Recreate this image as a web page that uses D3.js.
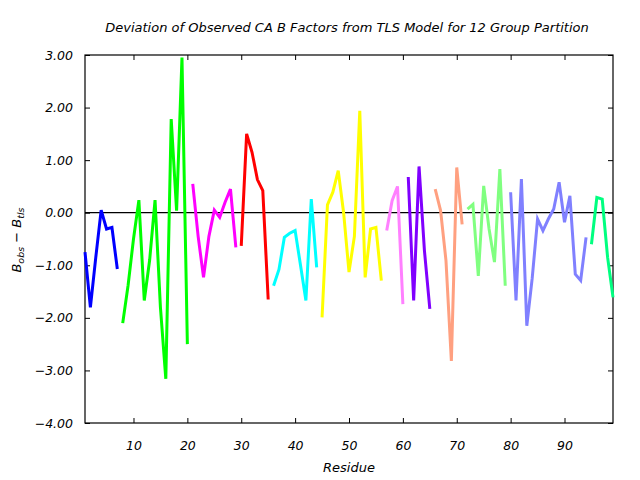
<!DOCTYPE html>
<html><head><meta charset="utf-8">
<script src="https://cdn.jsdelivr.net/npm/d3@7"></script>
<style>body{margin:0;background:#fff}svg{display:block}text{font-family:"DejaVu Sans",sans-serif;font-style:italic}</style>
</head><body><svg id="c" width="640" height="480"></svg>
<script>
const title = "Deviation of Observed CA B Factors from TLS Model for 12 Group Partition";
const xTicks = [10,20,30,40,50,60,70,80,90];
const yTicks = [-4,-3,-2,-1,0,1,2,3];
const groupColors = ["#0000ff","#00ff00","#ff00ff","#ff0000","#00ffff","#ffff00","#ff80ff","#8000ff","#ffa080","#80ff80","#8080ff","#00ff80"];
const groupStarts = [1,8,21,30,36,45,57,61,66,72,80,95];
const g1 = [-0.75,-1.8,-0.85,0.05,-0.31,-0.28,-1.07];
const g2 = [-2.1,-1.38,-0.5,0.24,-1.67,-0.9,0.24,-1.8,-3.16,1.78,0.04,2.95,-2.5];
const g3 = [0.55,-0.45,-1.23,-0.45,0.05,-0.09,0.2,0.45,-0.66];
const g4 = [-0.63,1.5,1.15,0.63,0.42,-1.65];
const g5 = [-1.39,-1.08,-0.47,-0.39,-0.34,-1.0,-1.67,0.26,-1.04];
const g6 = [-1.99,0.15,0.39,0.8,0.0,-1.13,-0.45,1.94,-1.23,-0.31,-0.28,-1.29];
const g7 = [-0.34,0.23,0.5,-1.74];
const g8 = [0.68,-1.67,0.88,-0.72,-1.83];
const g9 = [0.45,0.04,-0.91,-2.82,0.86,-0.22];
const g10 = [0.07,0.16,-1.2,0.51,-0.31,-0.94,0.83,-1.39];
const g11 = [0.39,-1.67,0.64,-2.15,-1.25,-0.12,-0.34,-0.12,0.07,0.58,-0.18,0.32,-1.17,-1.29,-0.47];
const g12 = [-0.6,0.29,0.26,-0.85,-1.61];
const groups = [g1,g2,g3,g4,g5,g6,g7,g8,g9,g10,g11,g12];

const svg = d3.select("#c");
const L=85, R=613, T=55, B=423;
const x = d3.scaleLinear().domain([1,99]).range([L,R]);
const y = d3.scaleLinear().domain([-4,3]).range([B,T]);

// frame
svg.append("rect").attr("x",L).attr("y",T).attr("width",R-L).attr("height",B-T)
  .attr("fill","none").attr("stroke","#000").attr("stroke-width",1.2);

// axes
const fmt = d3.format(".2f");
const yAxis = d3.axisLeft(y).tickValues(yTicks).tickSize(-5).tickPadding(12).tickFormat(d=>fmt(d).replace("-","\u2212"));
const yg = svg.append("g").attr("transform",`translate(${L},0)`).call(yAxis);
const yR = svg.append("g").attr("transform",`translate(${R},0)`).call(d3.axisRight(y).tickValues(yTicks).tickSize(-5).tickFormat(""));
const xg = svg.append("g").attr("transform",`translate(0,${B})`).call(d3.axisBottom(x).tickValues(xTicks).tickSize(-5).tickPadding(18));
const xT = svg.append("g").attr("transform",`translate(0,${T})`).call(d3.axisTop(x).tickValues(xTicks).tickSize(-5).tickFormat(""));
svg.selectAll(".domain").remove();
svg.selectAll(".tick line").attr("stroke","#000");
svg.selectAll(".tick text").attr("font-size",12.5).attr("fill","#000")
  .style("font-family","'DejaVu Sans',sans-serif").style("font-style","italic");

// zero line
svg.append("line").attr("x1",L).attr("x2",R).attr("y1",y(0)).attr("y2",y(0)).attr("stroke","#000").attr("stroke-width",1.2);

// data lines
const line = d3.line().x(d=>x(d[0])).y(d=>y(d[1]));
groups.forEach((g,i)=>{
  const pts = g.map((v,j)=>[groupStarts[i]+j, v]);
  svg.append("path").datum(pts).attr("d",line).attr("fill","none")
    .attr("stroke",groupColors[i]).attr("stroke-width",3).attr("stroke-linejoin","miter");
});

// titles
svg.append("text").attr("x",347).attr("y",32).attr("text-anchor","middle").attr("font-size",13).text(title);
svg.append("text").attr("x",349).attr("y",472).attr("text-anchor","middle").attr("font-size",13).text("Residue");
const yl = svg.append("text").attr("transform","translate(21,240) rotate(-90)").attr("text-anchor","middle").attr("font-size",13);
yl.append("tspan").text("B");
yl.append("tspan").attr("font-size",9.5).attr("dy",3).text("obs");
yl.append("tspan").attr("dy",-3).text(" \u2212 B");
yl.append("tspan").attr("font-size",9.5).attr("dy",3).text("tls");
</script></body></html>
